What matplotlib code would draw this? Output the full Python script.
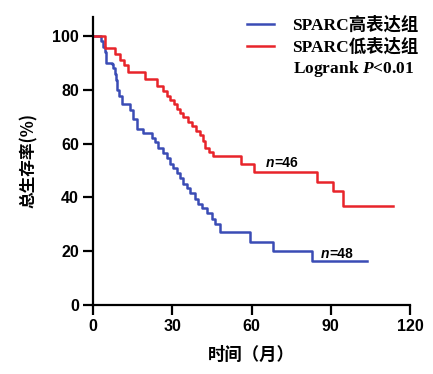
import matplotlib
matplotlib.use("Agg")
import matplotlib.pyplot as plt

plt.rcParams['font.family'] = ['Liberation Sans', 'Noto Sans CJK SC']
plt.rcParams['mathtext.fontset'] = 'custom'
plt.rcParams['mathtext.rm'] = 'Liberation Serif:bold'
plt.rcParams['mathtext.bfit'] = 'Liberation Serif:italic:bold'

# survival curves (months, percent)
low_t = [0, 4.5, 8.3, 10.2, 11.9, 13.4, 19.7, 24.1, 26.6, 28.0, 29.2, 30.5, 31.7, 33.0,
         34.2, 35.8, 37.4, 39.0, 40.5, 41.5, 42.4, 44.0, 45.6, 56.0, 61.0, 84.7, 90.8,
         94.7, 113.6]
low_s = [100, 95.5, 93.2, 91.0, 89.0, 86.5, 84.0, 81.5, 79.5, 77.5, 76.0, 74.5, 73.0, 71.5,
         70.0, 68.0, 66.5, 64.5, 63.0, 61.0, 58.5, 57.0, 55.5, 52.5, 49.5, 45.8, 42.2,
         36.8, 36.8]

high_t = [0, 3.0, 3.9, 4.4, 4.9, 7.2, 7.7, 8.2, 8.7, 9.0, 10.0, 10.9, 14.0, 15.3, 16.6,
          19.1, 22.2, 23.5, 24.7, 26.6, 27.9, 29.2, 30.4, 31.7, 33.0, 34.2, 35.5, 36.7,
          38.6, 39.9, 41.2, 43.1, 45.0, 46.2, 48.1, 59.5, 68.0, 83.0, 103.7]
high_s = [100, 98, 96, 94, 90, 89.5, 88, 86, 83.5, 80, 77.5, 74.5, 72.5, 69, 65.5,
          64, 62, 60.5, 58.5, 56.5, 54.5, 52.5, 50.8, 49, 47, 45, 43.3, 41.5,
          39.5, 37.7, 36, 34, 32, 30, 27, 23.5, 20, 16.2, 16.2]

labels = ['SPARC高表达组', 'SPARC低表达组']
n_low, n_high = 46, 48

fig = plt.figure(figsize=(4.33, 3.74), dpi=100)
ax = fig.add_axes([93/433, 1-305/374, 317/433, 288/374])

ax.step(high_t, high_s, where='post', color='#3a4cb5', lw=1.8, label=labels[0])
ax.step(low_t, low_s, where='post', color='#e8242a', lw=1.8, label=labels[1])

ax.set_xlim(0, 120)
ax.set_ylim(0, 107)
ax.set_xticks([0, 30, 60, 90, 120])
ax.set_yticks([0, 20, 40, 60, 80, 100])
for s in ['top', 'right']:
    ax.spines[s].set_visible(False)
for s in ['left', 'bottom']:
    ax.spines[s].set_linewidth(1.6)
ax.tick_params(width=1.6, length=7, labelsize=11.5, pad=3)
for lb in ax.get_xticklabels() + ax.get_yticklabels():
    lb.set_fontweight('bold')

ax.set_ylabel('总生存率(%)', fontsize=12, fontweight='bold', labelpad=10,
              family=['Noto Sans CJK SC'])
ax.set_xlabel('时间（月）', fontsize=12.5, fontweight='bold', labelpad=9,
              family=['Noto Sans CJK SC'])

# n labels
ax.text(68.5, 52.8, 'n', style='italic', fontweight='bold', fontsize=10, ha='right', va='center')
ax.text(68.5, 52.8, '=%d' % n_low, fontweight='bold', fontsize=10, ha='left', va='center')
ax.text(89.5, 18.8, 'n', style='italic', fontweight='bold', fontsize=10, ha='right', va='center')
ax.text(89.5, 18.8, '=%d' % n_high, fontweight='bold', fontsize=10, ha='left', va='center')

leg = ax.legend(loc='upper left', bbox_to_anchor=(231/433, 1-1/374),
                bbox_transform=fig.transFigure, frameon=False,
                prop={'family': ['Liberation Serif', 'Noto Sans CJK SC'],
                      'weight': 'bold', 'size': 12.5},
                handlelength=1.6, handletextpad=1.0, labelspacing=0.25)
fig.text(293/433, 1-69/374, r'Logrank $\mathbfit{P}$<0.01', family='Liberation Serif',
         fontweight='bold', fontsize=12.5, va='center')

fig.savefig('out.png', dpi=100)
